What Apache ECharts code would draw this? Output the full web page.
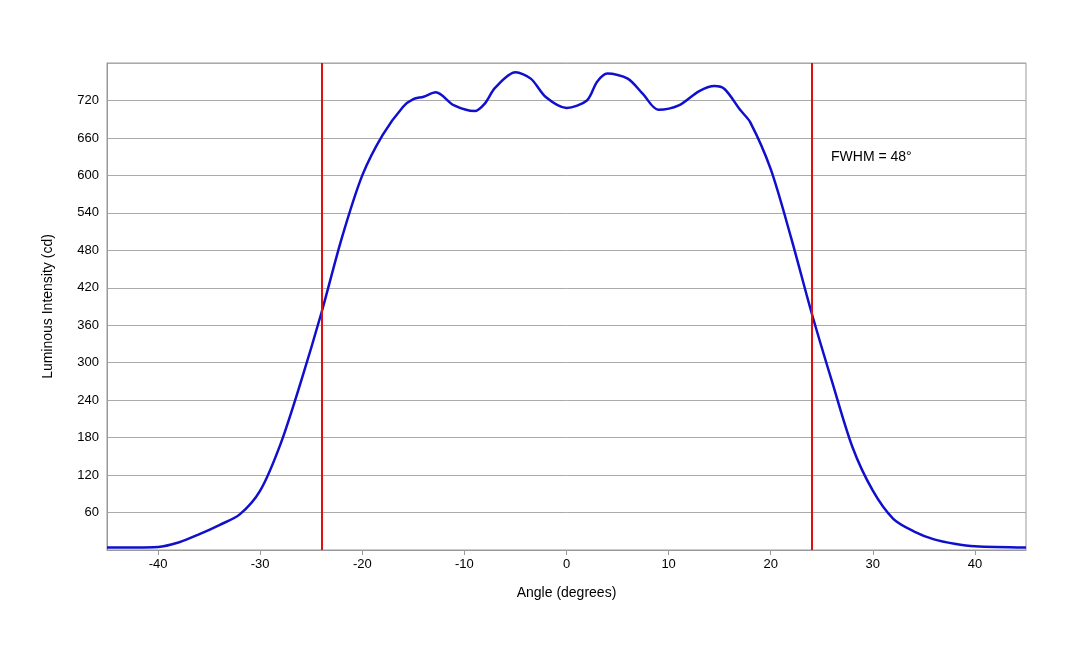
<!DOCTYPE html>
<html><head><meta charset="utf-8">
<script src="https://cdn.jsdelivr.net/npm/echarts@6/dist/echarts.min.js"></script>
<style>html,body{margin:0;padding:0;background:#fff}#c{width:1080px;height:648px}</style>
</head><body><div id="c"></div>
<script>
const angles = [-45,-40,-38,-36,-34,-32,-30,-28,-26,-24,-22,-20,-18,-16,-15,-14,-12.8,-11,-9,-8,-7,-5,-3.5,-2,0,2,3,4,6,7.5,9,11,13,14.5,15.5,17,18,20,22,24,26,28,30,32,34,36,38,40,45];
const intensity = [4,5,12,25,40,57,95,170,270,380,500,600,665,710,722,726,733,712,703,715,740,765,755,725,708,720,750,763,755,730,705,712,735,743,738,705,685,610,500,380,270,165,95,50,30,17,10,6,4];
const fwhmLines = [-24, 24];
const xTicks = [-40,-30,-20,-10,0,10,20,30,40];
const chart = echarts.init(document.getElementById('c'));
const f = 'Liberation Sans, Arial, sans-serif';
chart.setOption({
  animation:false,
  grid:{left:107,right:54,top:63,bottom:98,show:true,borderColor:'#999',borderWidth:1},
  xAxis:{type:'value',min:-45,max:45,name:'Angle (degrees)',nameLocation:'middle',nameGap:36,
    nameTextStyle:{fontFamily:f,fontSize:14,color:'#000'},
    axisLine:{lineStyle:{color:'#999'}},splitLine:{show:false},
    axisTick:{customValues:xTicks,lineStyle:{color:'#999'}},
    axisLabel:{customValues:xTicks,fontFamily:f,fontSize:13,color:'#000'}},
  yAxis:{type:'value',min:0,max:780,interval:60,name:'Luminous Intensity (cd)',nameLocation:'middle',nameGap:52,
    nameTextStyle:{fontFamily:f,fontSize:14,color:'#000'},
    axisLine:{show:true,onZero:false,lineStyle:{color:'#999'}},axisTick:{show:false},
    splitLine:{lineStyle:{color:'#aaa'}},
    axisLabel:{fontFamily:f,fontSize:13,color:'#000',formatter:v=>(v===0||v===780)?'':v}},
  series:[{type:'line',smooth:0.3,symbol:'none',data:angles.map((a,i)=>[a,intensity[i]]),
    lineStyle:{color:'#1010cc',width:2.5},
    markLine:{silent:true,symbol:'none',label:{show:false},lineStyle:{color:'#dd1111',width:2,type:'solid'},
      data:fwhmLines.map(v=>({xAxis:v}))}}],
  graphic:[{type:'text',left:831,top:150,style:{text:'FWHM = 48°',fontFamily:f,fontSize:14,fill:'#000'}}]
});
</script></body></html>
